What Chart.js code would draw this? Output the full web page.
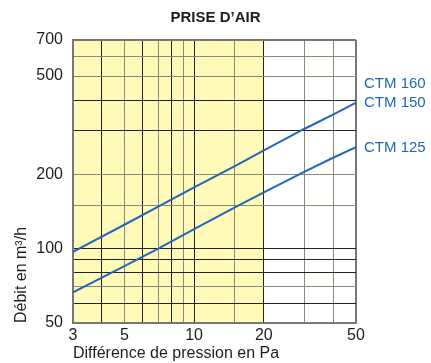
<!DOCTYPE html>
<html>
<head>
<meta charset="utf-8">
<script src="https://cdn.jsdelivr.net/npm/chart.js@4/dist/chart.umd.min.js"></script>
<style>
  html, body { margin: 0; padding: 0; background: #ffffff; }
  #wrap { width: 431px; height: 363px; }
</style>
</head>
<body>
<div id="wrap"><canvas id="chart" width="431" height="363"></canvas></div>
<script>
// Pressure difference (Pa) and air flow (m³/h) for each air inlet model
const pressureDrop = [3, 5, 7, 10, 15, 20, 30, 40, 50];
const flowCtm160_150 = [97, 125, 148, 177, 216, 250, 306, 350, 390];
const flowCtm125 = [66.5, 85, 100, 120, 147, 169, 205, 234, 258];
const seriesNames = [['CTM 160', 'CTM 150'], ['CTM 125']];
const chartTitle = 'PRISE D\u2019AIR';

// Axis grid values and the ones that carry a label
const xGridValues = [3, 4, 5, 6, 7, 8, 9, 10, 15, 20, 30, 40, 50];
const xTickLabels = [3, 5, 10, 20, 50];
const yGridValues = [50, 60, 70, 80, 90, 100, 150, 200, 300, 400, 500, 600, 700];
const yTickLabels = [50, 100, 200, 500, 700];

// Pressure range shaded in yellow
const shadedRange = [3, 20];

const FONT = "'Liberation Sans', Arial, Helvetica, sans-serif";
const BLUE = '#2266b8';
const TEXT = '#1e1e1e';

const toPoints = (ys) => pressureDrop.map((x, i) => ({ x: x, y: ys[i] }));

// grid colours: some lines dark, others lighter grey
const xLight = [5, 7, 9, 15, 30, 40];
const yLight = [70, 150, 200, 500, 600];

const shadePlugin = {
  id: 'shade',
  beforeDraw(chart) {
    const { ctx, chartArea, scales } = chart;
    const x0 = scales.x.getPixelForValue(shadedRange[0]);
    const x1 = scales.x.getPixelForValue(shadedRange[1]);
    ctx.save();
    ctx.fillStyle = '#fffab8';
    ctx.fillRect(x0, chartArea.top, x1 - x0, chartArea.bottom - chartArea.top);
    ctx.restore();
  }
};

// heading centred over the whole canvas
const headingPlugin = {
  id: 'heading',
  afterDraw(chart) {
    const { ctx, width } = chart;
    ctx.save();
    ctx.font = 'bold 15px ' + FONT;
    ctx.fillStyle = TEXT;
    ctx.textAlign = 'center';
    ctx.textBaseline = 'middle';
    ctx.fillText(chartTitle, width / 2, 17.5);
    ctx.restore();
  }
};

const endLabelPlugin = {
  id: 'endLabels',
  afterDatasetsDraw(chart) {
    const { ctx, chartArea } = chart;
    ctx.save();
    ctx.font = '15px ' + FONT;
    ctx.fillStyle = BLUE;
    ctx.textAlign = 'left';
    ctx.textBaseline = 'middle';
    chart.data.datasets.forEach((ds, di) => {
      const meta = chart.getDatasetMeta(di);
      const last = meta.data[meta.data.length - 1];
      const names = seriesNames[di];
      names.forEach((name, i) => {
        const y = last.y - (names.length - 1 - i) * 19;
        ctx.fillText(name, chartArea.right + 8, y + 0.5);
      });
    });
    ctx.restore();
  }
};

new Chart(document.getElementById('chart'), {
  type: 'line',
  data: {
    datasets: [
      {
        label: seriesNames[0].join(' / '),
        data: toPoints(flowCtm160_150),
        borderColor: BLUE,
        borderWidth: 2,
        pointRadius: 0,
        tension: 0,
        fill: false
      },
      {
        label: seriesNames[1].join(' / '),
        data: toPoints(flowCtm125),
        borderColor: BLUE,
        borderWidth: 2,
        pointRadius: 0,
        tension: 0,
        fill: false
      }
    ]
  },
  options: {
    responsive: false,
    animation: false,
    events: [],
    layout: { padding: { left: 0, right: 75, top: 40, bottom: 0 } },
    plugins: {
      legend: { display: false },
      tooltip: { enabled: false },
      title: { display: false }
    },
    scales: {
      x: {
        type: 'logarithmic',
        min: 3,
        max: 50,
        afterBuildTicks(scale) { scale.ticks = xGridValues.map(v => ({ value: v })); },
        afterFit(scale) { scale.height = 40; },
        ticks: {
          autoSkip: false,
          maxRotation: 0,
          padding: 3,
          color: TEXT,
          font: { family: FONT, size: 16 },
          callback: (v) => xTickLabels.includes(v) ? String(v) : ''
        },
        grid: {
          drawTicks: false,
          lineWidth: (c) => {
            const v = c.tick && c.tick.value;
            return (v === 50) ? 2 : 1;
          },
          color: (c) => {
            const v = c.tick && c.tick.value;
            if (v === 3 || v === 50) return '#777777';
            return xLight.includes(v) ? '#8a8a78' : '#222222';
          }
        },
        border: { display: true, color: '#777777', width: 2 },
        title: {
          display: true,
          text: 'Diff\u00e9rence de pression en Pa',
          align: 'start',
          color: TEXT,
          font: { family: FONT, size: 16 },
          padding: { top: 0, bottom: 0 }
        }
      },
      y: {
        type: 'logarithmic',
        min: 50,
        max: 700,
        afterBuildTicks(scale) { scale.ticks = yGridValues.map(v => ({ value: v })); },
        afterFit(scale) { scale.width = 73; },
        ticks: {
          autoSkip: false,
          padding: 10,
          color: TEXT,
          font: { family: FONT, size: 16 },
          callback: (v) => yTickLabels.includes(v) ? String(v) : ''
        },
        grid: {
          drawTicks: false,
          lineWidth: (c) => {
            const v = c.tick && c.tick.value;
            return (v === 700) ? 2 : 1;
          },
          color: (c) => {
            const v = c.tick && c.tick.value;
            if (v === 700 || v === 50) return '#777777';
            return yLight.includes(v) ? '#8a8a78' : '#222222';
          }
        },
        border: { display: true, color: '#777777', width: 2 },
        title: {
          display: true,
          text: 'D\u00e9bit en m\u00b3/h',
          align: 'start',
          color: TEXT,
          font: { family: FONT, size: 16 },
          padding: { top: 12, bottom: 0 }
        }
      }
    }
  },
  plugins: [shadePlugin, headingPlugin, endLabelPlugin]
});
</script>
</body>
</html>
